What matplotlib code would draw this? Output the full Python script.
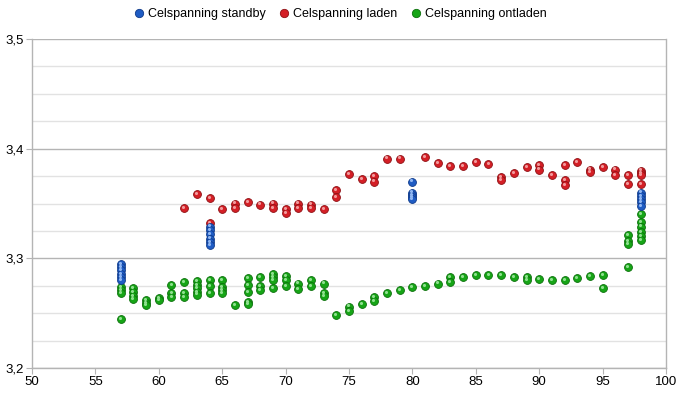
import matplotlib
matplotlib.use("Agg")
import matplotlib.pyplot as plt
from matplotlib.ticker import MultipleLocator, FuncFormatter
from matplotlib.transforms import ScaledTranslation
from matplotlib.lines import Line2D

plt.rcParams['font.family'] = ['Liberation Sans', 'DejaVu Sans']

# ---- data ----
standby_x = [57]*6 + [64]*6 + [80]*5 + [98]*5
standby_v = [3.295, 3.292, 3.289, 3.286, 3.283, 3.280,
             3.329, 3.326, 3.322, 3.318, 3.315, 3.312,
             3.370, 3.360, 3.358, 3.356, 3.354,
             3.360, 3.357, 3.354, 3.351, 3.348]

laden_x = [62, 63, 64, 64, 65, 66, 66, 67, 68, 69, 69, 70, 70, 71, 71, 72, 72, 73,
           74, 74, 75, 76, 77, 77, 78, 79, 81, 82, 83, 84, 85, 86, 87, 87, 88, 89,
           90, 90, 91, 92, 92, 92, 93, 94, 94, 95, 96, 96, 97, 97, 98, 98, 98, 98]
laden_v = [3.346, 3.359, 3.355, 3.332, 3.345, 3.350, 3.346, 3.351, 3.349, 3.350, 3.346,
           3.345, 3.341, 3.350, 3.346, 3.349, 3.346, 3.345,
           3.362, 3.356, 3.377, 3.372, 3.375, 3.370, 3.391, 3.391, 3.392, 3.387, 3.384,
           3.384, 3.388, 3.386, 3.374, 3.371, 3.378, 3.383,
           3.385, 3.381, 3.376, 3.385, 3.371, 3.367, 3.388, 3.381, 3.379, 3.383,
           3.381, 3.376, 3.376, 3.368, 3.380, 3.378, 3.376, 3.368]

ontladen_x = [57, 57, 57, 57, 58, 58, 58, 58, 59, 59, 59, 60, 60, 61, 61, 61, 62, 62, 62,
              63, 63, 63, 63, 63, 64, 64, 64, 65, 65, 65, 65, 66, 67, 67, 67, 67, 67,
              68, 68, 68, 69, 69, 69, 69, 70, 70, 70, 71, 71, 72, 72, 73, 73, 73,
              74, 75, 75, 76, 77, 77, 78, 79, 80, 81, 82, 83, 83, 84, 85, 86, 87, 88,
              89, 89, 90, 91, 92, 93, 94, 95, 95, 97, 97, 97, 97, 98, 98, 98, 98, 98, 98]
ontladen_v = [3.274, 3.271, 3.268, 3.245, 3.273, 3.269, 3.266, 3.263, 3.262, 3.259, 3.257,
              3.264, 3.262, 3.276, 3.268, 3.265, 3.278, 3.268, 3.265,
              3.279, 3.276, 3.273, 3.269, 3.267, 3.280, 3.275, 3.268, 3.280, 3.274, 3.271, 3.268,
              3.257, 3.282, 3.276, 3.269, 3.260, 3.258,
              3.283, 3.275, 3.271, 3.286, 3.283, 3.280, 3.273, 3.284, 3.280, 3.275,
              3.277, 3.272, 3.280, 3.275, 3.277, 3.268, 3.266,
              3.248, 3.256, 3.252, 3.258, 3.265, 3.261, 3.268, 3.271, 3.274, 3.275, 3.277,
              3.283, 3.278, 3.283, 3.285, 3.285, 3.285, 3.283,
              3.283, 3.280, 3.281, 3.280, 3.280, 3.282, 3.284, 3.285, 3.273,
              3.321, 3.316, 3.313, 3.292, 3.340, 3.333, 3.329, 3.324, 3.320, 3.317]

series_labels = ['Celspanning standby', 'Celspanning laden', 'Celspanning ontladen']
base_colors = ['#1f5cc4', '#d41f26', '#16a516']
edge_colors = ['#0f3a8a', '#8e1014', '#0c700c']
hl_colors = ['#8fb6f2', '#f29a9c', '#8fe08f']

fig = plt.figure(figsize=(6.79, 3.93), dpi=100)
ax = fig.add_axes([32/679, 1-368/393, (666-32)/679, (368-39)/393])

ax.set_xlim(50, 100)
ax.set_ylim(3.2, 3.5)
ax.xaxis.set_major_locator(MultipleLocator(5))
ax.yaxis.set_major_locator(MultipleLocator(0.1))
ax.yaxis.set_minor_locator(MultipleLocator(0.025))
ax.yaxis.set_major_formatter(FuncFormatter(lambda v, p: f"{v:.1f}".replace('.', ',')))
ax.grid(axis='y', which='major', color='#b4b4b4', lw=1.0, zorder=0)
ax.grid(axis='y', which='minor', color='#e2e2e2', lw=1.0, zorder=0)
ax.set_axisbelow(True)
for s in ['left', 'bottom', 'right']:
    ax.spines[s].set_color('#b4b4b4')
    ax.spines[s].set_linewidth(1.0)
ax.spines['top'].set_visible(False)
ax.tick_params(axis='both', which='major', length=4, color='#b4b4b4', labelsize=9.5,
               labelcolor='black', pad=2)
ax.tick_params(axis='y', which='minor', length=0)

hl_offset = ax.transData + ScaledTranslation(-0.7/72, 0.8/72, fig.dpi_scale_trans)
data = [(standby_x, standby_v), (laden_x, laden_v), (ontladen_x, ontladen_v)]
order = [2, 1, 0]
for i in order:
    xs, vs = data[i]
    ax.scatter(xs, vs, s=32, c=base_colors[i], edgecolors=edge_colors[i], linewidths=0.6,
               zorder=3 + (i == 0) * 2)
    ax.scatter(xs, vs, s=5, c=hl_colors[i], linewidths=0, transform=hl_offset,
               zorder=3.5 + (i == 0) * 2)

handles = [Line2D([], [], ls='none', marker='o', markersize=6, markerfacecolor=base_colors[i],
                  markeredgecolor=edge_colors[i], markeredgewidth=0.6) for i in range(3)]
fig.legend(handles, series_labels, loc='center', bbox_to_anchor=(0.5, 1-14/393), ncol=3,
           frameon=False, fontsize=9, handletextpad=0.2, columnspacing=1.0,
           handlelength=1.0, borderaxespad=0)

fig.savefig('out.png', dpi=100)
